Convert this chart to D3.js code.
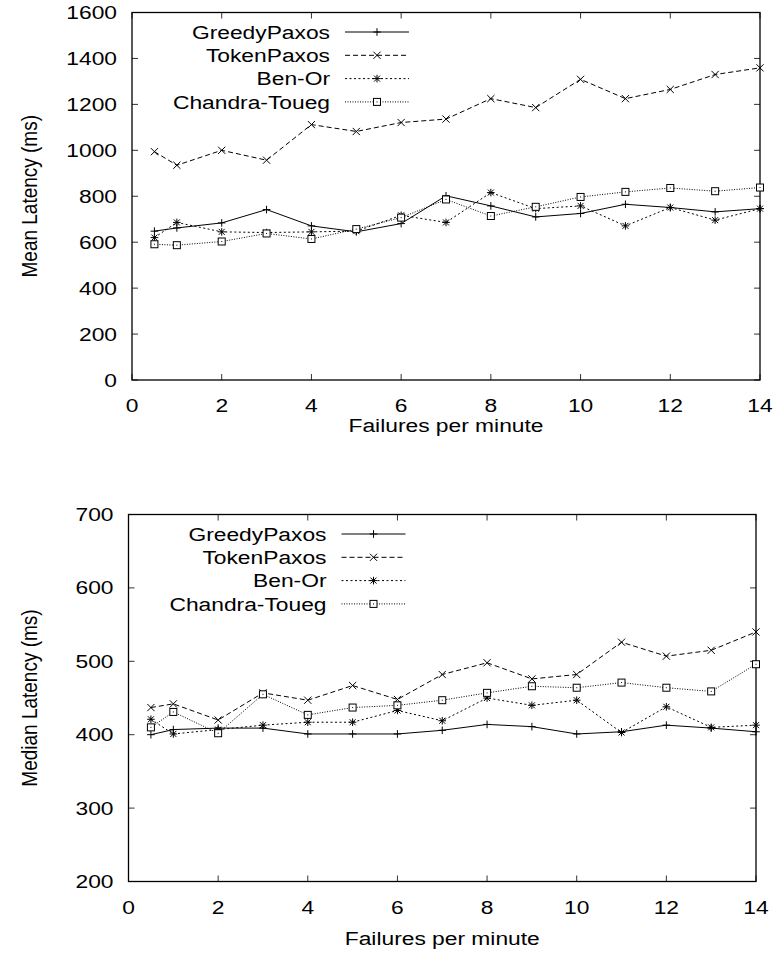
<!DOCTYPE html>
<html>
<head>
<meta charset="utf-8">
<script src="https://cdn.jsdelivr.net/npm/d3@7"></script>
<style>
  body { margin: 0; background: #fff; }
  text { font-family: "Liberation Sans", Arial, Helvetica, sans-serif; font-size: 19px; fill: #000; }
</style>
</head>
<body>
<script>
// Width and height
const w = 777;
const h = 957;

// Data
const failures = [0.5, 1, 2, 3, 4, 5, 6, 7, 8, 9, 10, 11, 12, 13, 14];
const seriesNames = ['GreedyPaxos', 'TokenPaxos', 'Ben-Or', 'Chandra-Toueg'];

const meanGreedy = [648, 662, 684, 742, 671, 645, 681, 802, 758, 710, 725, 765, 751, 732, 746];
const meanToken = [994, 935, 1000, 957, 1112, 1082, 1121, 1136, 1225, 1186, 1309, 1225, 1265, 1330, 1359];
const meanBenOr = [620, 686, 645, 642, 645, 648, 717, 686, 816, 746, 758, 671, 751, 696, 746];
const meanChandra = [591, 587, 603, 638, 614, 657, 707, 786, 714, 754, 797, 819, 836, 822, 838];

const medianGreedy = [400, 407, 409, 409, 401, 401, 401, 406, 414, 411, 401, 404, 413, 409, 404];
const medianToken = [437, 442, 420, 457, 447, 467, 448, 482, 498, 476, 482, 526, 507, 515, 540];
const medianBenOr = [421, 401, 407, 413, 417, 417, 433, 419, 450, 440, 447, 403, 438, 410, 413];
const medianChandra = [410, 431, 402, 455, 427, 437, 440, 447, 457, 466, 464, 471, 464, 459, 496];

const xTicks = [0, 2, 4, 6, 8, 10, 12, 14];
const meanTicks = [0, 200, 400, 600, 800, 1000, 1200, 1400, 1600];
const medianTicks = [200, 300, 400, 500, 600, 700];

// Line dash and point type for each series (gnuplot style)
const dashes = [null, '5,3', '2,2.5', '1,1.5'];
const markers = ['plus', 'cross', 'star', 'box'];

// text in the original figure is a bit wider than tall
const stretch = 1.2;

const svg = d3
  .select('body')
  .append('svg')
  .attr('width', w)
  .attr('height', h);

const drawMarker = (g, type, x, y) => {
  const s = 3.8;
  if (type === 'plus' || type === 'star') {
    g.append('path')
      .attr('d', `M${x - s},${y}H${x + s}M${x},${y - s}V${y + s}`)
      .attr('stroke', '#000')
      .attr('stroke-width', 1);
  }
  if (type === 'cross' || type === 'star') {
    const c = type === 'star' ? 3 : 3.6;
    g.append('path')
      .attr('d', `M${x - c},${y - c}L${x + c},${y + c}M${x - c},${y + c}L${x + c},${y - c}`)
      .attr('stroke', '#000')
      .attr('stroke-width', 1);
  }
  if (type === 'box') {
    g.append('rect')
      .attr('x', x - 3.5)
      .attr('y', y - 3.5)
      .attr('width', 7)
      .attr('height', 7)
      .attr('fill', '#fff')
      .attr('stroke', '#000')
      .attr('stroke-width', 1);
    g.append('rect')
      .attr('x', x - 0.5)
      .attr('y', y - 0.5)
      .attr('width', 1)
      .attr('height', 1)
      .attr('fill', '#000');
  }
};

const label = (g, x, y, str, anchor, rotate) => {
  g.append('text')
    .attr('transform', `translate(${x},${y}) scale(${stretch},1)` + (rotate ? ' rotate(-90)' : ''))
    .attr('text-anchor', anchor)
    .text(str);
};

const drawChart = opts => {
  const { left, right, top, bottom, yDomain, yTicks, yLabel, series, titleGap } = opts;
  const g = svg.append('g');

  const x = d3.scaleLinear().domain([0, 14]).range([left, right]);
  const y = d3.scaleLinear().domain(yDomain).range([bottom, top]);

  // Inward ticks on all four sides
  const tl = 6;
  xTicks.forEach(t => {
    g.append('path')
      .attr('d', `M${x(t)},${bottom}v${-tl}M${x(t)},${top}v${tl}`)
      .attr('stroke', '#333')
      .attr('stroke-width', 1);
    label(g, x(t), bottom + 32, t, 'middle');
  });
  yTicks.forEach(t => {
    g.append('path')
      .attr('d', `M${left},${y(t)}h${tl}M${right},${y(t)}h${-tl}`)
      .attr('stroke', '#333')
      .attr('stroke-width', 1);
    label(g, left - 15, y(t) + 6.5, t, 'end');
  });

  // Border
  g.append('rect')
    .attr('x', left)
    .attr('y', top)
    .attr('width', right - left)
    .attr('height', bottom - top)
    .attr('fill', 'none')
    .attr('stroke', '#000')
    .attr('stroke-width', 1.3);

  // Axis titles
  label(g, (left + right) / 2, bottom + titleGap, 'Failures per minute', 'middle');
  label(g, 37, (top + bottom) / 2, yLabel, 'middle', true);

  const line = d3
    .line()
    .x((d, i) => x(failures[i]))
    .y(d => y(d));

  // Series lines and points
  series.forEach((vals, k) => {
    g.append('path')
      .datum(vals)
      .attr('d', line)
      .attr('fill', 'none')
      .attr('stroke', '#000')
      .attr('stroke-width', 1)
      .attr('stroke-dasharray', dashes[k]);
  });
  series.forEach((vals, k) => {
    vals.forEach((v, i) => drawMarker(g, markers[k], x(failures[i]), y(v)));
  });

  // Legend
  const textRight = left + 198;
  seriesNames.forEach((name, k) => {
    const ly = top + 19.5 + k * 23.3;
    label(g, textRight, ly + 6.8, name, 'end');
    g.append('path')
      .attr('d', `M${textRight + 15},${ly}H${textRight + 79}`)
      .attr('stroke', '#000')
      .attr('stroke-width', 1)
      .attr('stroke-dasharray', dashes[k]);
    drawMarker(g, markers[k], textRight + 47, ly);
  });
};

drawChart({
  left: 132,
  right: 760,
  top: 12.5,
  bottom: 380,
  yDomain: [0, 1600],
  yTicks: meanTicks,
  yLabel: 'Mean Latency (ms)',
  series: [meanGreedy, meanToken, meanBenOr, meanChandra],
  titleGap: 52
});

drawChart({
  left: 128.5,
  right: 756,
  top: 514.5,
  bottom: 881.5,
  yDomain: [200, 700],
  yTicks: medianTicks,
  yLabel: 'Median Latency (ms)',
  series: [medianGreedy, medianToken, medianBenOr, medianChandra],
  titleGap: 63.5
});
</script>
</body>
</html>
